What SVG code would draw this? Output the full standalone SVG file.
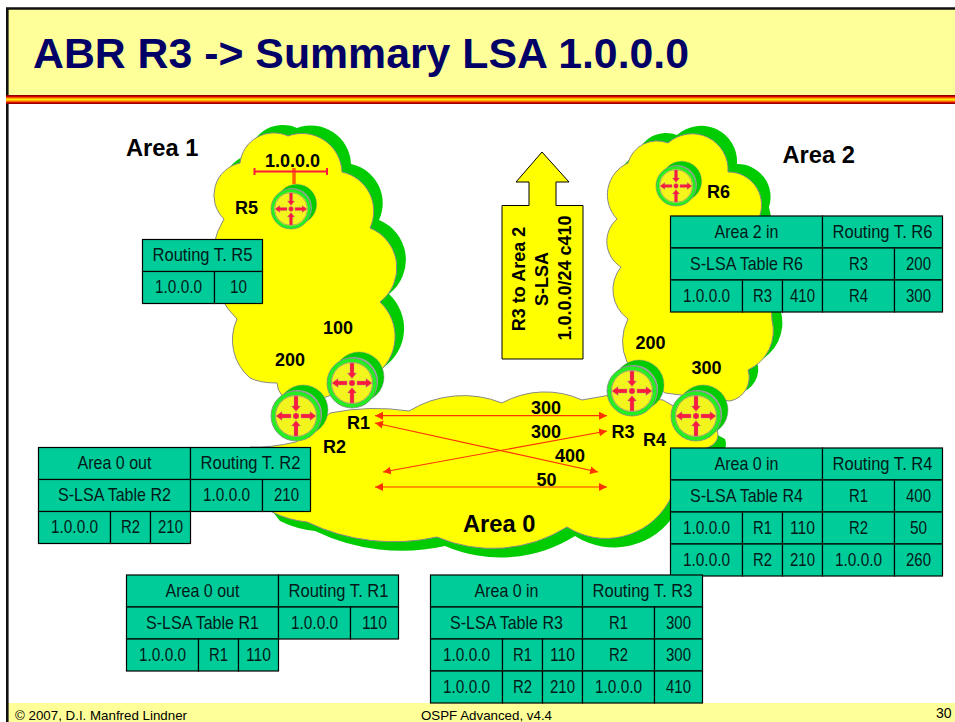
<svg xmlns="http://www.w3.org/2000/svg" xmlns:xlink="http://www.w3.org/1999/xlink" width="955" height="722" viewBox="0 0 955 722">
<style>
text{font-family:"Liberation Sans",Arial,sans-serif}
.b{font-weight:bold;font-size:18px;fill:#000}
.a{font-weight:bold;font-size:23.7px;fill:#000}
.t{font-size:19px;fill:#001a1a;text-anchor:middle}
.c{fill:#00cc99;stroke:#000;stroke-width:1.2}
.cl{fill:#ffff00;stroke:#888;stroke-width:1}
.sh{fill:#00cc00}
.ln{stroke:#ff3300;stroke-width:1.2;fill:none;marker-start:url(#ah);marker-end:url(#ah)}
.f{font-size:14px;fill:#000}
</style>
<defs>
<linearGradient id="stripe" x1="0" y1="0" x2="0" y2="1">
<stop offset="0" stop-color="#660000"/><stop offset=".18" stop-color="#e00000"/><stop offset=".36" stop-color="#ff9900"/><stop offset=".5" stop-color="#ffee00"/><stop offset=".66" stop-color="#ff9900"/><stop offset=".84" stop-color="#e00000"/><stop offset="1" stop-color="#660000"/>
</linearGradient>
<marker id="ah" viewBox="0 0 8 8" refX="8" refY="4" markerWidth="8" markerHeight="8" markerUnits="userSpaceOnUse" orient="auto-start-reverse"><path d="M0,0L8,4L0,8z" fill="#ff3300"/></marker>
<g id="rt">
<circle cx="7" cy="-6" r="25" fill="#00cc00" stroke="#888" stroke-width=".5"/>
<circle cx="1.5" cy="-1.5" r="24.5" fill="#a8a8a8"/>
<circle r="23" fill="#f5f51e" stroke="#22ee22" stroke-width="4"/>
<circle r="25" fill="none" stroke="#888" stroke-width=".8"/>
<circle r="20.5" fill="none" stroke="#888" stroke-width=".8"/>
<g fill="#ff1a3c" stroke="#999" stroke-width=".4">
<path d="M-20,0L-14,-4.5V-2H-5V2H-14V4.5z"/>
<path d="M20,0L14,-4.5V-2H5V2H14V4.5z"/>
<path d="M0,-4.5L-4.5,-10H-2V-20H2V-10H4.5z"/>
<path d="M0,4.5L-4.5,10H-2V20H2V10H4.5z"/>
<circle r="3"/>
</g>
</g>
<path id="c1" d="M240,163A34,34 0 0 1 288,136A40,40 0 0 1 342,172A40,40 0 0 1 370,228A43,43 0 0 1 380,302A47,47 0 0 1 375,375L340,392L323,398L283,397Q277,390 277,383Q260,383 250,378A50,50 0 0 1 237,319A80,80 0 0 1 224,219A33,33 0 0 1 240,163z"/>
<path id="c2" d="M628,163A30,30 0 0 1 668,143A36,36 0 0 1 728,172A33,33 0 0 1 760,215Q770,260 772,320A43,43 0 0 1 748,370A24,24 0 0 1 730,401L665,393L627,362A49,49 0 0 1 628,319A36,36 0 0 1 621,267A30,30 0 0 1 617,219A35,35 0 0 1 628,163z"/>
<path id="c0" d="M330,413Q370,405 409,411A104,104 0 0 1 502,403A89,89 0 0 1 582,400L610,395L663,400L680,410L717,430Q722,445 700,450L668,503A72,72 0 0 1 567,527A140,140 0 0 1 437,537A200,200 0 0 1 307,522Q288,520 272,512L255,490L250,447Q270,448 296,442z"/>
</defs>
<rect width="955" height="722" fill="#fff"/>
<rect x="8" y="9" width="947" height="86" fill="#ffff99"/>
<rect x="8" y="703" width="947" height="19" fill="#ffff99"/>
<path d="M7.3,722V8.5H955" fill="none" stroke="#111" stroke-width="2.6"/>
<rect x="6" y="95" width="949" height="9" fill="url(#stripe)"/>
<text x="33" y="68" font-size="42.8" font-weight="bold" fill="#000066">ABR R3 -&gt; Summary LSA 1.0.0.0</text>
<text x="15" y="720" font-size="13" textLength="172" lengthAdjust="spacingAndGlyphs">© 2007, D.I. Manfred Lindner</text>
<text x="421" y="720" font-size="13" textLength="131" lengthAdjust="spacingAndGlyphs">OSPF Advanced, v4.4</text>
<text class="f" x="936" y="718">30</text>

<g id="area1"><use xlink:href="#c1" href="#c1" class="sh" transform="translate(9,-8)"/><use xlink:href="#c1" href="#c1" class="cl"/><text class="a" x="126" y="156">Area 1</text></g>
<g id="area2"><use xlink:href="#c2" href="#c2" class="sh" transform="translate(9,-8)"/><use xlink:href="#c2" href="#c2" class="cl"/><text class="a" x="782.5" y="163">Area 2</text></g>
<g id="area0"><use xlink:href="#c0" href="#c0" class="sh" transform="translate(8,9)"/><use xlink:href="#c0" href="#c0" class="cl"/><text class="a" x="463" y="532">Area 0</text></g>

<g id="net">
<path d="M294,168V184" stroke="#ff6600" stroke-width="3.5" fill="none"/>
<path d="M254.5,171.5H327M254.5,168V175M327,168V175" stroke="#ff1a3c" stroke-width="2" fill="none"/>
<text class="b" x="265" y="166.5">1.0.0.0</text>
</g>

<g id="connectors">
<path class="ln" d="M375,415.7H607"/>
<path class="ln" d="M375,423L598,472"/>
<path class="ln" d="M383,472L607,431"/>
<path class="ln" d="M375,487H607"/>
</g>
<g id="costs">
<text class="b" x="323" y="334">100</text>
<text class="b" x="275" y="366">200</text>
<text class="b" x="635.5" y="349">200</text>
<text class="b" x="691.5" y="374">300</text>
<text class="b" x="531" y="414">300</text>
<text class="b" x="531" y="438">300</text>
<text class="b" x="555" y="461.5">400</text>
<text class="b" x="536.5" y="485.5">50</text>
</g>

<g id="R5"><use xlink:href="#rt" href="#rt" transform="translate(291,209) scale(.8)"/><text class="b" x="235" y="214">R5</text></g>
<g id="R6"><use xlink:href="#rt" href="#rt" transform="translate(676,186) scale(.8)"/><text class="b" x="707" y="198">R6</text></g>
<g id="R1"><use xlink:href="#rt" href="#rt" transform="translate(352,383)"/><text class="b" x="347" y="429">R1</text></g>
<g id="R2"><use xlink:href="#rt" href="#rt" transform="translate(296,416)"/><text class="b" x="323" y="453">R2</text></g>
<g id="R3"><use xlink:href="#rt" href="#rt" transform="translate(632,391)"/><text class="b" x="611.5" y="437.5">R3</text></g>
<g id="R4"><use xlink:href="#rt" href="#rt" transform="translate(696,416)"/><text class="b" x="643" y="445.5">R4</text></g>

<g id="lsa-arrow">
<path d="M542,152L569,182H556V205.5H583V359H502V205.5H529V182H516z" fill="#ffff00" stroke="#000" stroke-width="1"/>
<g text-anchor="middle">
<text class="b" transform="translate(525,279) rotate(-90)">R3 to Area 2</text>
<text class="b" transform="translate(547.5,279) rotate(-90)">S-LSA</text>
<text class="b" transform="translate(570.5,278) rotate(-90)">1.0.0.0/24 c410</text>
</g>
</g>

<g id="table-r5">
<rect class="c" x="142.5" y="239.5" width="120" height="32"/><rect class="c" x="142.5" y="271.5" width="72" height="32"/><rect class="c" x="214.5" y="271.5" width="48" height="32"/>
<text class="t" x="202.5" y="261" textLength="100" lengthAdjust="spacingAndGlyphs">Routing T. R5</text>
<text class="t" x="178.5" y="293" textLength="47" lengthAdjust="spacingAndGlyphs">1.0.0.0</text>
<text class="t" x="238.5" y="293" textLength="17" lengthAdjust="spacingAndGlyphs">10</text>
</g>

<g id="table-r6">
<rect class="c" x="670.5" y="216" width="152" height="32"/><rect class="c" x="822.5" y="216" width="120" height="32"/>
<rect class="c" x="670.5" y="248" width="152" height="32"/><rect class="c" x="822.5" y="248" width="72" height="32"/><rect class="c" x="894.5" y="248" width="48" height="32"/>
<rect class="c" x="670.5" y="280" width="72" height="32"/><rect class="c" x="742.5" y="280" width="40" height="32"/><rect class="c" x="782.5" y="280" width="40" height="32"/><rect class="c" x="822.5" y="280" width="72" height="32"/><rect class="c" x="894.5" y="280" width="48" height="32"/>
<text class="t" x="746.5" y="237.5" textLength="64" lengthAdjust="spacingAndGlyphs">Area 2 in</text>
<text class="t" x="882.5" y="237.5" textLength="100" lengthAdjust="spacingAndGlyphs">Routing T. R6</text>
<text class="t" x="746.5" y="269.5" textLength="113" lengthAdjust="spacingAndGlyphs">S-LSA Table R6</text>
<text class="t" x="858.5" y="269.5" textLength="19" lengthAdjust="spacingAndGlyphs">R3</text>
<text class="t" x="918.5" y="269.5" textLength="25" lengthAdjust="spacingAndGlyphs">200</text>
<text class="t" x="706.5" y="301.5" textLength="47" lengthAdjust="spacingAndGlyphs">1.0.0.0</text>
<text class="t" x="762.5" y="301.5" textLength="19" lengthAdjust="spacingAndGlyphs">R3</text>
<text class="t" x="802.5" y="301.5" textLength="25" lengthAdjust="spacingAndGlyphs">410</text>
<text class="t" x="858.5" y="301.5" textLength="19" lengthAdjust="spacingAndGlyphs">R4</text>
<text class="t" x="918.5" y="301.5" textLength="25" lengthAdjust="spacingAndGlyphs">300</text>
</g>

<g id="table-r4">
<rect class="c" x="670.5" y="448" width="152" height="32"/><rect class="c" x="822.5" y="448" width="120" height="32"/>
<rect class="c" x="670.5" y="480" width="152" height="32"/><rect class="c" x="822.5" y="480" width="72" height="32"/><rect class="c" x="894.5" y="480" width="48" height="32"/>
<rect class="c" x="670.5" y="512" width="72" height="32"/><rect class="c" x="742.5" y="512" width="40" height="32"/><rect class="c" x="782.5" y="512" width="40" height="32"/><rect class="c" x="822.5" y="512" width="72" height="32"/><rect class="c" x="894.5" y="512" width="48" height="32"/>
<rect class="c" x="670.5" y="544" width="72" height="32"/><rect class="c" x="742.5" y="544" width="40" height="32"/><rect class="c" x="782.5" y="544" width="40" height="32"/><rect class="c" x="822.5" y="544" width="72" height="32"/><rect class="c" x="894.5" y="544" width="48" height="32"/>
<text class="t" x="746.5" y="469.5" textLength="64" lengthAdjust="spacingAndGlyphs">Area 0 in</text>
<text class="t" x="882.5" y="469.5" textLength="100" lengthAdjust="spacingAndGlyphs">Routing T. R4</text>
<text class="t" x="746.5" y="501.5" textLength="113" lengthAdjust="spacingAndGlyphs">S-LSA Table R4</text>
<text class="t" x="858.5" y="501.5" textLength="19" lengthAdjust="spacingAndGlyphs">R1</text>
<text class="t" x="918.5" y="501.5" textLength="25" lengthAdjust="spacingAndGlyphs">400</text>
<text class="t" x="706.5" y="533.5" textLength="47" lengthAdjust="spacingAndGlyphs">1.0.0.0</text>
<text class="t" x="762.5" y="533.5" textLength="19" lengthAdjust="spacingAndGlyphs">R1</text>
<text class="t" x="802.5" y="533.5" textLength="25" lengthAdjust="spacingAndGlyphs">110</text>
<text class="t" x="858.5" y="533.5" textLength="19" lengthAdjust="spacingAndGlyphs">R2</text>
<text class="t" x="918.5" y="533.5" textLength="17" lengthAdjust="spacingAndGlyphs">50</text>
<text class="t" x="706.5" y="565.5" textLength="47" lengthAdjust="spacingAndGlyphs">1.0.0.0</text>
<text class="t" x="762.5" y="565.5" textLength="19" lengthAdjust="spacingAndGlyphs">R2</text>
<text class="t" x="802.5" y="565.5" textLength="25" lengthAdjust="spacingAndGlyphs">210</text>
<text class="t" x="858.5" y="565.5" textLength="47" lengthAdjust="spacingAndGlyphs">1.0.0.0</text>
<text class="t" x="918.5" y="565.5" textLength="25" lengthAdjust="spacingAndGlyphs">260</text>
</g>

<g id="table-r2">
<rect class="c" x="38.5" y="447.5" width="152" height="32"/><rect class="c" x="190.5" y="447.5" width="120" height="32"/>
<rect class="c" x="38.5" y="479.5" width="152" height="32"/><rect class="c" x="190.5" y="479.5" width="72" height="32"/><rect class="c" x="262.5" y="479.5" width="48" height="32"/>
<rect class="c" x="38.5" y="511.5" width="72" height="32"/><rect class="c" x="110.5" y="511.5" width="40" height="32"/><rect class="c" x="150.5" y="511.5" width="40" height="32"/>
<text class="t" x="114.5" y="469" textLength="74" lengthAdjust="spacingAndGlyphs">Area 0 out</text>
<text class="t" x="250.5" y="469" textLength="100" lengthAdjust="spacingAndGlyphs">Routing T. R2</text>
<text class="t" x="114.5" y="501" textLength="113" lengthAdjust="spacingAndGlyphs">S-LSA Table R2</text>
<text class="t" x="226.5" y="501" textLength="47" lengthAdjust="spacingAndGlyphs">1.0.0.0</text>
<text class="t" x="286.5" y="501" textLength="25" lengthAdjust="spacingAndGlyphs">210</text>
<text class="t" x="74.5" y="533" textLength="47" lengthAdjust="spacingAndGlyphs">1.0.0.0</text>
<text class="t" x="130.5" y="533" textLength="19" lengthAdjust="spacingAndGlyphs">R2</text>
<text class="t" x="170.5" y="533" textLength="25" lengthAdjust="spacingAndGlyphs">210</text>
</g>

<g id="table-r1">
<rect class="c" x="126.5" y="575" width="152" height="32"/><rect class="c" x="278.5" y="575" width="120" height="32"/>
<rect class="c" x="126.5" y="607" width="152" height="32"/><rect class="c" x="278.5" y="607" width="72" height="32"/><rect class="c" x="350.5" y="607" width="48" height="32"/>
<rect class="c" x="126.5" y="639" width="72" height="32"/><rect class="c" x="198.5" y="639" width="40" height="32"/><rect class="c" x="238.5" y="639" width="40" height="32"/>
<text class="t" x="202.5" y="596.5" textLength="74" lengthAdjust="spacingAndGlyphs">Area 0 out</text>
<text class="t" x="338.5" y="596.5" textLength="100" lengthAdjust="spacingAndGlyphs">Routing T. R1</text>
<text class="t" x="202.5" y="628.5" textLength="113" lengthAdjust="spacingAndGlyphs">S-LSA Table R1</text>
<text class="t" x="314.5" y="628.5" textLength="47" lengthAdjust="spacingAndGlyphs">1.0.0.0</text>
<text class="t" x="374.5" y="628.5" textLength="25" lengthAdjust="spacingAndGlyphs">110</text>
<text class="t" x="162.5" y="660.5" textLength="47" lengthAdjust="spacingAndGlyphs">1.0.0.0</text>
<text class="t" x="218.5" y="660.5" textLength="19" lengthAdjust="spacingAndGlyphs">R1</text>
<text class="t" x="258.5" y="660.5" textLength="25" lengthAdjust="spacingAndGlyphs">110</text>
</g>

<g id="table-r3">
<rect class="c" x="430.5" y="575" width="152" height="32"/><rect class="c" x="582.5" y="575" width="120" height="32"/>
<rect class="c" x="430.5" y="607" width="152" height="32"/><rect class="c" x="582.5" y="607" width="72" height="32"/><rect class="c" x="654.5" y="607" width="48" height="32"/>
<rect class="c" x="430.5" y="639" width="72" height="32"/><rect class="c" x="502.5" y="639" width="40" height="32"/><rect class="c" x="542.5" y="639" width="40" height="32"/><rect class="c" x="582.5" y="639" width="72" height="32"/><rect class="c" x="654.5" y="639" width="48" height="32"/>
<rect class="c" x="430.5" y="671" width="72" height="32"/><rect class="c" x="502.5" y="671" width="40" height="32"/><rect class="c" x="542.5" y="671" width="40" height="32"/><rect class="c" x="582.5" y="671" width="72" height="32"/><rect class="c" x="654.5" y="671" width="48" height="32"/>
<text class="t" x="506.5" y="596.5" textLength="64" lengthAdjust="spacingAndGlyphs">Area 0 in</text>
<text class="t" x="642.5" y="596.5" textLength="100" lengthAdjust="spacingAndGlyphs">Routing T. R3</text>
<text class="t" x="506.5" y="628.5" textLength="113" lengthAdjust="spacingAndGlyphs">S-LSA Table R3</text>
<text class="t" x="618.5" y="628.5" textLength="19" lengthAdjust="spacingAndGlyphs">R1</text>
<text class="t" x="678.5" y="628.5" textLength="25" lengthAdjust="spacingAndGlyphs">300</text>
<text class="t" x="466.5" y="660.5" textLength="47" lengthAdjust="spacingAndGlyphs">1.0.0.0</text>
<text class="t" x="522.5" y="660.5" textLength="19" lengthAdjust="spacingAndGlyphs">R1</text>
<text class="t" x="562.5" y="660.5" textLength="25" lengthAdjust="spacingAndGlyphs">110</text>
<text class="t" x="618.5" y="660.5" textLength="19" lengthAdjust="spacingAndGlyphs">R2</text>
<text class="t" x="678.5" y="660.5" textLength="25" lengthAdjust="spacingAndGlyphs">300</text>
<text class="t" x="466.5" y="692.5" textLength="47" lengthAdjust="spacingAndGlyphs">1.0.0.0</text>
<text class="t" x="522.5" y="692.5" textLength="19" lengthAdjust="spacingAndGlyphs">R2</text>
<text class="t" x="562.5" y="692.5" textLength="25" lengthAdjust="spacingAndGlyphs">210</text>
<text class="t" x="618.5" y="692.5" textLength="47" lengthAdjust="spacingAndGlyphs">1.0.0.0</text>
<text class="t" x="678.5" y="692.5" textLength="25" lengthAdjust="spacingAndGlyphs">410</text>
</g>
</svg>
